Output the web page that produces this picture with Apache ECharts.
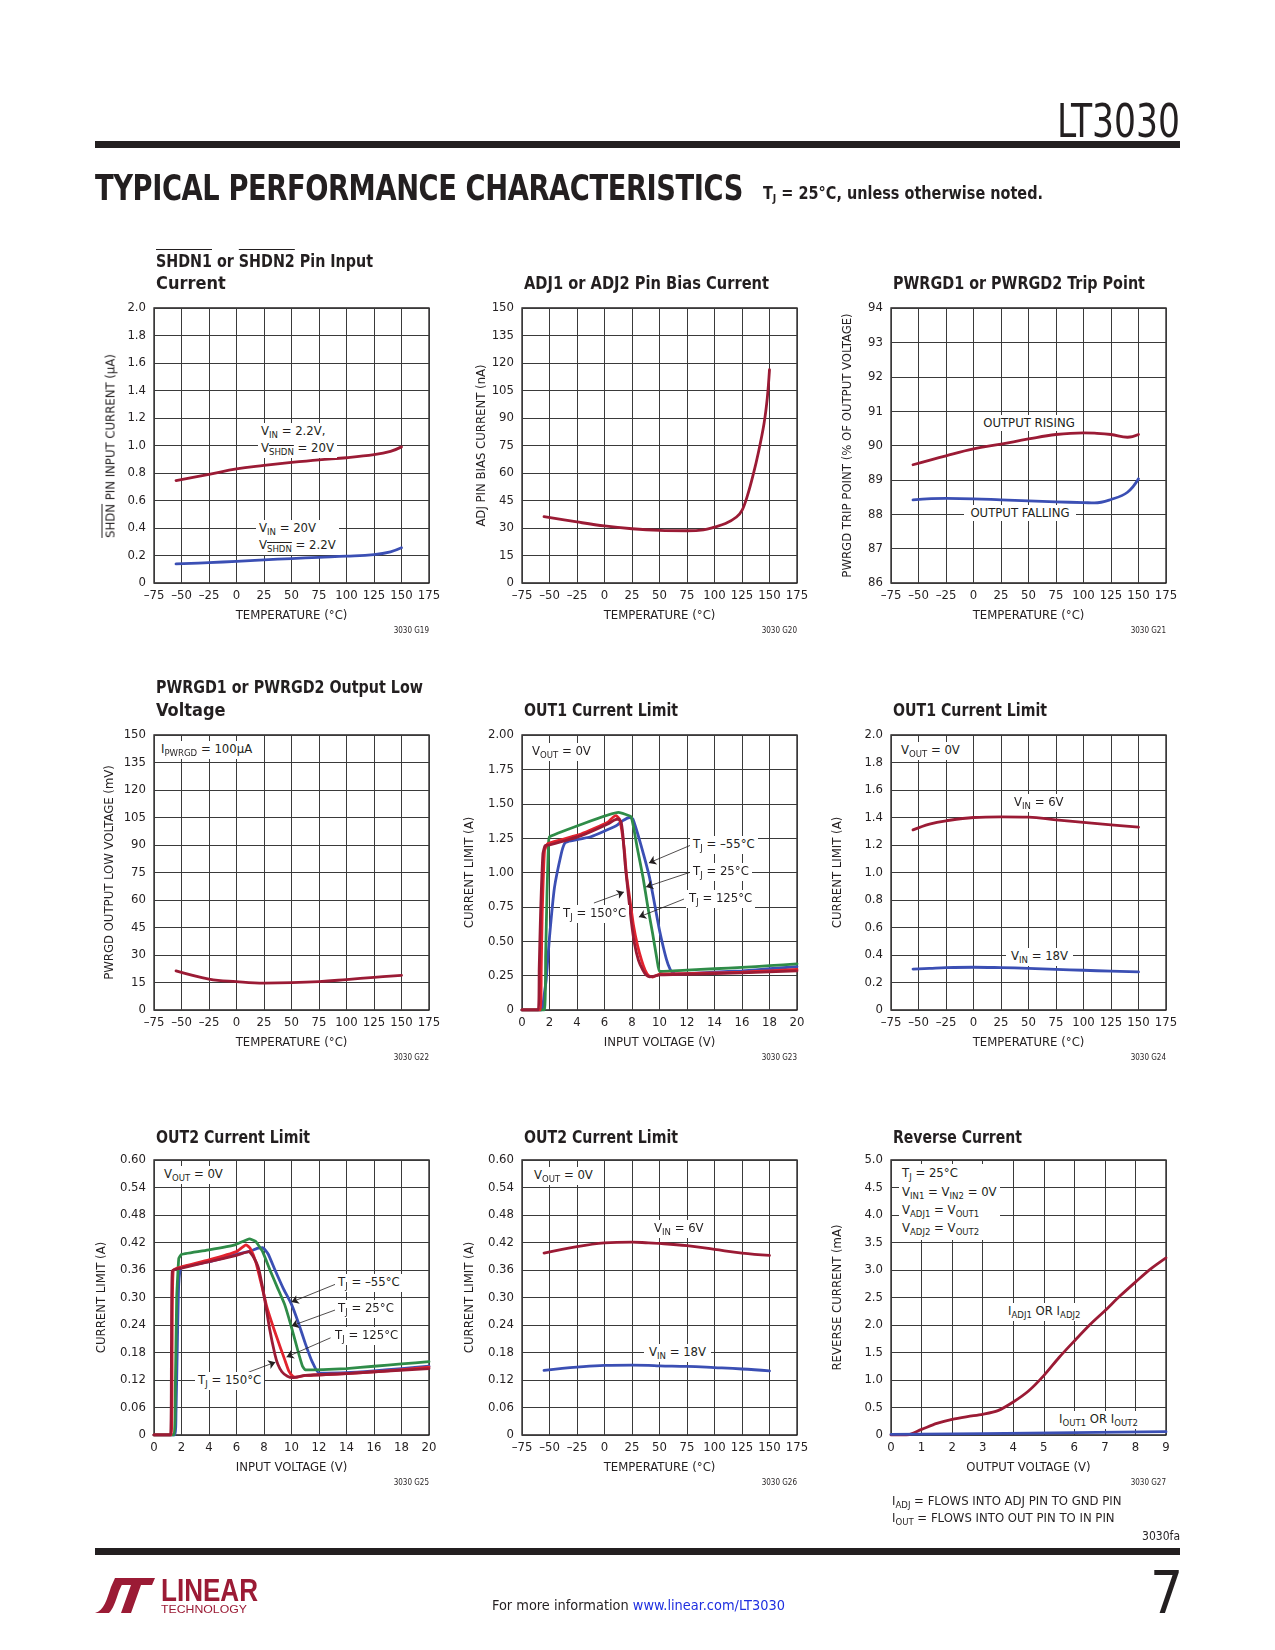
<!DOCTYPE html>
<html><head><meta charset="utf-8">
<script src="https://cdn.jsdelivr.net/npm/echarts/dist/echarts.min.js"></script>
<style>
body{margin:0;background:#fff}
#page{position:relative;width:1275px;height:1650px;overflow:hidden;background:#fff;color:#231f20;
 font-family:"Liberation Sans Narrow","DejaVu Sans Condensed","Arial Narrow",sans-serif}
#chart{position:absolute;left:0;top:0;width:1275px;height:1650px}
.o{position:absolute;white-space:nowrap;line-height:1}
.lab{font-size:13px;line-height:16.5px;background:#fff;padding:0 3px}
.ttl{font-size:18px;font-weight:bold}
.s{font-size:9.5px;position:relative;top:3px}
.ov{text-decoration:overline}
.bar{position:absolute;background:#231f20}
.code{font-size:8px}
</style></head>
<body><div id="page"><div id="chart"></div></div>
<script>
// ---------------- DATA ----------------
const tempTicks = ['–75','–50','–25','0','25','50','75','100','125','150','175'];
const vinTicks = ['0','2','4','6','8','10','12','14','16','18','20'];
const voutTicks = ['0','1','2','3','4','5','6','7','8','9'];
const y1Ticks = ['0','0.2','0.4','0.6','0.8','1.0','1.2','1.4','1.6','1.8','2.0'];
const y2Ticks = ['0','15','30','45','60','75','90','105','120','135','150'];
const y3Ticks = ['86','87','88','89','90','91','92','93','94'];
const y5Ticks = ['0','0.25','0.50','0.75','1.00','1.25','1.50','1.75','2.00'];
const y7Ticks = ['0','0.06','0.12','0.18','0.24','0.30','0.36','0.42','0.48','0.54','0.60'];
const y9Ticks = ['0','0.5','1.0','1.5','2.0','2.5','3.0','3.5','4.0','4.5','5.0'];

// Chart 1: SHDN pin input current (uA)
const shdnTemp = [-55,-25,0,25,50,75,100,125,140,150];
const shdnVin22 = [0.745,0.79,0.83,0.855,0.877,0.896,0.911,0.933,0.957,0.99];
const shdnVin20 = [0.139,0.148,0.158,0.168,0.178,0.187,0.195,0.207,0.227,0.256];
// Chart 2: ADJ pin bias current (nA)
const adjTemp = [-55,-25,0,25,50,75,90,100,110,120,125,130,135,140,145,148,150];
const adjBias = [36.2,33.3,31.1,29.6,28.7,28.5,29,30.5,32.4,36,39.6,47.8,58.7,71.5,86.9,101,116.4];
// Chart 3: PWRGD trip point (%)
const tripTemp = [-55,-25,0,25,50,75,100,110,125,140,150];
const tripRising = [89.44,89.70,89.90,90.04,90.19,90.32,90.37,90.36,90.32,90.24,90.32];
const tripFalling = [88.42,88.46,88.45,88.42,88.39,88.36,88.34,88.33,88.43,88.64,89.03];
// Chart 4: PWRGD output low voltage (mV)
const lowTemp = [-55,-25,0,25,50,75,100,125,150];
const lowMv = [21.3,16.9,15.5,14.7,14.9,15.5,16.6,17.8,18.9];
// Chart 5: OUT1 current limit vs input voltage
const o1m55V = [0,1.4,1.5,1.6,1.76,2.0,2.36,2.85,3.09,3.33,5.0,6.85,7.33,7.82,8.06,8.42,8.9,9.27,9.64,10.0,10.5,10.8,11.0,11.3,12,14,16,18,20];
const o1m55A = [0,0,0.02,0.1,0.22,0.53,0.89,1.135,1.21,1.225,1.26,1.34,1.377,1.40,1.39,1.28,1.11,0.966,0.773,0.58,0.37,0.29,0.27,0.262,0.265,0.275,0.285,0.30,0.315];
const o1p25V = [0,1.62,1.72,1.82,1.92,2.0,7.02,7.94,8.38,8.8,9.15,9.5,9.83,10.0,12,14,16,18,20];
const o1p25A = [0,0,0.4,0.85,1.2,1.26,1.437,1.405,1.18,0.966,0.75,0.556,0.36,0.28,0.29,0.30,0.31,0.322,0.335];
const o1p125V = [0,1.33,1.40,1.47,1.64,1.88,4.3,6.24,6.6,6.85,7.09,7.26,7.45,7.6,7.85,8.1,8.4,8.7,8.95,9.2,9.5,10,12,14,16,18,20];
const o1p125A = [0,0,0.3,0.70,1.16,1.21,1.28,1.365,1.40,1.413,1.389,1.304,1.16,0.98,0.80,0.62,0.47,0.36,0.29,0.25,0.24,0.26,0.265,0.27,0.275,0.285,0.295];
const o1p150V = [0,1.18,1.25,1.35,1.52,1.68,2.0,4.3,6.24,6.73,7.02,7.21,7.33,7.5,7.7,7.94,8.18,8.47,8.79,9.03,9.27,9.64,10,12,16,20];
const o1p150A = [0,0,0.3,0.70,1.135,1.196,1.20,1.268,1.353,1.382,1.389,1.365,1.28,1.063,0.87,0.652,0.483,0.362,0.29,0.254,0.242,0.246,0.255,0.26,0.27,0.285];
// Chart 6: OUT1 current limit vs temperature
const o1Temp = [-55,-40,-25,0,25,50,75,100,125,150];
const o1Vin6 = [1.31,1.352,1.376,1.40,1.405,1.403,1.383,1.364,1.347,1.33];
const o1Vin18 = [0.298,0.303,0.308,0.311,0.308,0.303,0.296,0.289,0.282,0.277];
// Chart 7: OUT2 current limit vs input voltage
const o2m55V = [0,1.5,1.6,1.7,1.8,2.0,4,6,7,7.5,7.9,8.3,8.8,9.4,10.0,10.5,11.0,11.5,12.0,14,16,18,20];
const o2m55A = [0,0,0.05,0.2,0.33,0.365,0.378,0.394,0.401,0.407,0.409,0.395,0.36,0.32,0.285,0.245,0.2,0.16,0.135,0.136,0.14,0.145,0.15];
const o2p25V = [0,1.45,1.55,1.65,1.8,2.0,4,5.9,6.94,7.4,7.9,8.5,9.0,9.5,10.0,10.5,10.8,11.0,14,16,18,20];
const o2p25A = [0,0,0.1,0.3,0.385,0.394,0.404,0.415,0.428,0.422,0.40,0.355,0.32,0.285,0.235,0.18,0.15,0.142,0.145,0.15,0.155,0.16];
const o2p125V = [0,1.25,1.32,1.4,2,4,6,6.7,7.0,7.4,7.8,8.2,8.7,9.2,9.5,9.8,10.1,10.4,11,14,17,20];
const o2p125A = [0,0,0.2,0.36,0.367,0.382,0.40,0.415,0.407,0.378,0.33,0.28,0.233,0.19,0.165,0.14,0.128,0.126,0.13,0.134,0.14,0.148];
const o2p150V = [0,1.2,1.27,1.33,2,4,6,6.9,7.2,7.6,8.0,8.4,8.8,9.0,9.3,9.7,10.1,11,14,20];
const o2p150A = [0,0,0.2,0.358,0.364,0.378,0.392,0.40,0.39,0.364,0.305,0.233,0.175,0.155,0.138,0.128,0.125,0.13,0.134,0.145];
// Chart 8: OUT2 current limit vs temperature
const o2Temp = [-55,-25,0,25,40,50,75,100,125,150];
const o2Vin6 = [0.397,0.411,0.419,0.421,0.419,0.418,0.413,0.405,0.397,0.392];
const o2Vin18 = [0.141,0.148,0.152,0.1525,0.152,0.151,0.1497,0.147,0.144,0.140];
// Chart 9: reverse current (mA)
const revV = [0,0.5,1.0,1.5,2.0,2.5,3.0,3.5,4.0,4.5,5.0,5.5,6.0,6.5,7.0,7.5,8.0,8.5,9.0];
const revAdj = [0,0,0.103,0.21,0.285,0.335,0.376,0.443,0.6,0.8,1.08,1.41,1.71,2.0,2.26,2.53,2.78,3.02,3.22];
const revOutV = [0,3,6,9];
const revOut = [0.012,0.025,0.045,0.06];

// ---------------- STYLE ----------------
const FONT = '"Liberation Sans Narrow","DejaVu Sans Condensed","Arial Narrow",sans-serif';
const INK = '#231f20';
const C_RED = '#9b1b35', C_BLUE = '#3b4fb4', C_GREEN = '#2f8c48', C_BRED = '#e2232e';
const gridPos = [[154,308],[522,308],[891,308],[154,735],[522,735],[891,735],[154,1160],[522,1160],[891,1160]];
const TEMP = {min:-75,max:175,int:25,labels:tempTicks,name:'TEMPERATURE (°C)'};
const VIN = {min:0,max:20,int:2,labels:vinTicks,name:'INPUT VOLTAGE (V)'};
const panels = [
 {x:TEMP, y:{min:0,max:2,int:0.2,labels:y1Ticks,name:'',gap:37}},
 {x:TEMP, y:{min:0,max:150,int:15,labels:y2Ticks,name:'ADJ PIN BIAS CURRENT (nA)',gap:33.5}},
 {x:TEMP, y:{min:86,max:94,int:1,labels:y3Ticks,name:'PWRGD TRIP POINT (% OF OUTPUT VOLTAGE)',gap:36.5}},
 {x:TEMP, y:{min:0,max:150,int:15,labels:y2Ticks,name:'PWRGD OUTPUT LOW VOLTAGE (mV)',gap:37.5}},
 {x:VIN, y:{min:0,max:2,int:0.25,labels:y5Ticks,name:'CURRENT LIMIT (A)',gap:45.5}},
 {x:TEMP, y:{min:0,max:2,int:0.2,labels:y1Ticks,name:'CURRENT LIMIT (A)',gap:46.5}},
 {x:VIN, y:{min:0,max:0.6,int:0.06,labels:y7Ticks,name:'CURRENT LIMIT (A)',gap:45.5}},
 {x:TEMP, y:{min:0,max:0.6,int:0.06,labels:y7Ticks,name:'CURRENT LIMIT (A)',gap:45.5}},
 {x:{min:0,max:9,int:1,labels:voutTicks,name:'OUTPUT VOLTAGE (V)'}, y:{min:0,max:5,int:0.5,labels:y9Ticks,name:'REVERSE CURRENT (mA)',gap:46.5}}
];
function lbl(ax, v){ const k = Math.round((v-ax.min)/ax.int); return ax.labels[k] !== undefined ? ax.labels[k] : ''; }
function xy(xs, ys){ return xs.map((x,i)=>[x, ys[i]]); }
function arrows(list){
  return {silent:true, symbol:['none','arrow'], symbolSize:7, animation:false,
    lineStyle:{color:INK, width:0.8, type:'solid'}, label:{show:false}, emphasis:{disabled:true},
    data:list.map(a=>[{coord:a[0]},{coord:a[1]}])};
}
function ln(p, xs, ys, color, o){
  o = o || {};
  const s = {type:'line', xAxisIndex:p, yAxisIndex:p, data:xy(xs,ys), showSymbol:false, symbol:'none',
    smooth:(o.smooth!==undefined?o.smooth:0.4), silent:true, z:o.z||2,
    lineStyle:{color:color, width:o.w||2.8, join:'round', cap:'round'}, itemStyle:{color:color}, emphasis:{disabled:true}};
  if (o.ml) s.markLine = o.ml;
  return s;
}
const arrows5 = [[[12.30,1.20],[9.23,1.07]],[[12.30,1.004],[9.02,0.895]],[[11.78,0.807],[8.50,0.676]],[[5.23,0.778],[7.41,0.858]]];
const arrows7 = [[[13.2,0.329],[10.0,0.29]],[[13.2,0.273],[10.0,0.238]],[[12.84,0.212],[9.64,0.170]],[[6.87,0.137],[8.83,0.159]]];

const series = [
 ln(0, shdnTemp, shdnVin22, C_RED), ln(0, shdnTemp, shdnVin20, C_BLUE),
 ln(1, adjTemp, adjBias, C_RED, {smooth:0.35}),
 ln(2, tripTemp, tripRising, C_RED), ln(2, tripTemp, tripFalling, C_BLUE),
 ln(3, lowTemp, lowMv, C_RED),
 ln(4, o1m55V, o1m55A, C_BLUE, {smooth:0.15, ml:arrows(arrows5)}),
 ln(4, o1p25V, o1p25A, C_GREEN, {smooth:0.1}),
 ln(4, o1p125V, o1p125A, C_BRED, {smooth:0.15}),
 ln(4, o1p150V, o1p150A, C_RED, {smooth:0.15}),
 ln(5, o1Temp, o1Vin6, C_RED), ln(5, o1Temp, o1Vin18, C_BLUE),
 ln(6, o2m55V, o2m55A, C_BLUE, {smooth:0.15, ml:arrows(arrows7)}),
 ln(6, o2p25V, o2p25A, C_GREEN, {smooth:0.1}),
 ln(6, o2p125V, o2p125A, C_BRED, {smooth:0.15}),
 ln(6, o2p150V, o2p150A, C_RED, {smooth:0.15}),
 ln(7, o2Temp, o2Vin6, C_RED), ln(7, o2Temp, o2Vin18, C_BLUE),
 ln(8, revV, revAdj, C_RED, {smooth:0.3}), ln(8, revOutV, revOut, C_BLUE, {smooth:0, z:3})
];

const chart = echarts.init(document.getElementById('chart'), null, {renderer:'canvas'});
chart.setOption({
  animation:false,
  textStyle:{fontFamily:FONT},
  grid: gridPos.map(g=>({left:g[0], top:g[1], width:275, height:275, show:true, borderColor:INK, borderWidth:1.3, backgroundColor:'transparent'})),
  xAxis: panels.map((p,i)=>({type:'value', gridIndex:i, min:p.x.min, max:p.x.max, interval:p.x.int,
    name:p.x.name, nameLocation:'middle', nameGap:26,
    nameTextStyle:{fontSize:13, color:INK, fontFamily:FONT},
    axisLine:{show:false}, axisTick:{show:false},
    splitLine:{show:true, lineStyle:{color:'#3a3a3a', width:1}},
    axisLabel:{fontSize:13, color:INK, margin:6, fontFamily:FONT, showMinLabel:true, showMaxLabel:true, hideOverlap:false,
      formatter:(v)=>lbl(p.x, v)}})),
  yAxis: panels.map((p,i)=>({type:'value', gridIndex:i, min:p.y.min, max:p.y.max, interval:p.y.int,
    name:p.y.name, nameLocation:'middle', nameGap:p.y.gap, nameRotate:90,
    nameTextStyle:{fontSize:13, color:INK, fontFamily:FONT},
    axisLine:{show:false}, axisTick:{show:false},
    splitLine:{show:true, lineStyle:{color:'#3a3a3a', width:1}},
    axisLabel:{fontSize:13, color:INK, margin:8, fontFamily:FONT, showMinLabel:true, showMaxLabel:true, hideOverlap:false,
      formatter:(v)=>lbl(p.y, v)}})),
  series: series
});

// ---------------- HTML TEXT OVERLAYS ----------------
const page = document.getElementById('page');
function add(x, cy, html, cls, css, fitW, anchor){
  const d = document.createElement('div');
  d.className = 'o ' + (cls||'');
  d.innerHTML = html;
  if (css) d.style.cssText += css;
  page.appendChild(d);
  const r = d.getBoundingClientRect();
  let w = r.width, tf = '';
  if (fitW){ tf = 'scaleX(' + (fitW / w) + ')'; d.style.transformOrigin = 'left center'; w = fitW; }
  let left = x;
  if (anchor === 'c') left = x - w/2;
  if (anchor === 'r') left = x - w;
  d.style.left = left + 'px';
  d.style.top = (cy - r.height/2) + 'px';
  if (tf) d.style.transform = tf;
  return d;
}
function bar(x, y, w, h){ const b = document.createElement('div'); b.className='bar';
  b.style.left=x+'px'; b.style.top=y+'px'; b.style.width=w+'px'; b.style.height=h+'px'; page.appendChild(b); }
const sub = t => '<span class="s">' + t + '</span>';

// header / footer
add(1057, 120, 'LT3030', '', 'font-size:47px;', 123);
bar(95, 141, 1085, 6.5);
add(95, 188, 'TYPICAL PERFORMANCE CHARACTERISTICS', '', 'font-size:36px;font-weight:bold;letter-spacing:-0.5px;', 648);
add(763, 193, 'T' + '<span style="font-size:11px;position:relative;top:3px">J</span>' + ' = 25°C, unless otherwise noted.', '', 'font-size:17px;font-weight:bold;', 280);
bar(95, 1548, 1085, 6.5);
add(1180, 1536, '3030fa', '', 'font-size:12px;', 0, 'r');
add(492, 1605, 'For more information <span style="color:#1f2fe0">www.linear.com/LT3030</span>', '', 'font-size:14.5px;', 293);
add(1150, 1593, '7', '', 'font-size:58px;font-weight:normal;');

// logo
const logo = document.createElement('div');
logo.className = 'o';
logo.style.left = '95px'; logo.style.top = '1575px';
logo.innerHTML = '<svg width="170" height="40" viewBox="0 0 170 40" xmlns="http://www.w3.org/2000/svg">' +
 '<path d="M0,38 C9,36 12,24 16,12 L20,3 L30,3 L24,16 C20,28 18,34 14,38 Z" fill="#9b1b35"/>' +
 '<path d="M22,3 L60,3 L57,10 L46,10 L36,38 L26,38 L36,10 L19,10 Z" fill="#9b1b35"/>' +
 '<text x="66" y="26" font-family=\'"Liberation Sans Narrow",sans-serif\' font-size="31" font-weight="bold" fill="#9b1b35" textLength="97" lengthAdjust="spacingAndGlyphs">LINEAR</text>' +
 '<text x="66" y="38" font-family=\'"Liberation Sans Narrow",sans-serif\' font-size="11" fill="#9b1b35" textLength="86" lengthAdjust="spacingAndGlyphs">TECHNOLOGY</text>' +
 '</svg>';
page.appendChild(logo);

// chart titles
add(156, 261, '<span class="ov">SHDN1</span> or <span class="ov">SHDN2</span> Pin Input', 'ttl', '', 217);
add(156, 283, 'Current', 'ttl');
add(524, 283, 'ADJ1 or ADJ2 Pin Bias Current', 'ttl', '', 245);
add(893, 283, 'PWRGD1 or PWRGD2 Trip Point', 'ttl', '', 252);
add(156, 687, 'PWRGD1 or PWRGD2 Output Low', 'ttl', '', 267);
add(156, 710, 'Voltage', 'ttl');
add(524, 710, 'OUT1 Current Limit', 'ttl', '', 154);
add(893, 710, 'OUT1 Current Limit', 'ttl', '', 154);
add(156, 1137, 'OUT2 Current Limit', 'ttl', '', 154);
add(524, 1137, 'OUT2 Current Limit', 'ttl', '', 154);
add(893, 1137, 'Reverse Current', 'ttl', '', 129);

// figure codes
[['3030 G19',429,631],['3030 G20',797,631],['3030 G21',1166,631],
 ['3030 G22',429,1058],['3030 G23',797,1058],['3030 G24',1166,1058],
 ['3030 G25',429,1483],['3030 G26',797,1483],['3030 G27',1166,1483]].forEach(c=>add(c[1], c[2], c[0], 'code', '', 0, 'r'));

// chart 1 y-axis name (with overline)
const yn = document.createElement('div');
yn.className = 'o';
yn.style.cssText = 'left:110px;top:445.5px;font-size:13px;transform:translate(-50%,-50%) rotate(-90deg);';
yn.innerHTML = '<span class="ov">SHDN</span> PIN INPUT CURRENT (µA)';
page.appendChild(yn);

// annotations
add(258, 440, 'V' + sub('IN') + ' = 2.2V,<br>V' + sub('<span class="ov">SHDN</span>') + ' = 20V', 'lab');
add(256, 537, 'V' + sub('IN') + ' = 20V<br>V' + sub('<span class="ov">SHDN</span>') + ' = 2.2V', 'lab');
add(1029, 423, 'OUTPUT RISING', 'lab', 'padding:0 4px;', 0, 'c');
add(1020, 513, 'OUTPUT FALLING', 'lab', 'padding:0 6px;', 0, 'c');
add(158, 750, 'I' + sub('PWRGD') + ' = 100µA', 'lab');
add(529, 752, 'V' + sub('OUT') + ' = 0V', 'lab');
add(690, 845, 'T' + sub('J') + ' = –55°C', 'lab');
add(690, 872, 'T' + sub('J') + ' = 25°C', 'lab');
add(686, 899, 'T' + sub('J') + ' = 125°C', 'lab');
add(560, 914, 'T' + sub('J') + ' = 150°C', 'lab');
add(898, 751, 'V' + sub('OUT') + ' = 0V', 'lab');
add(1011, 803, 'V' + sub('IN') + ' = 6V', 'lab');
add(1006, 957, 'V' + sub('IN') + ' = 18V', 'lab', 'padding:0 5px;');
add(161, 1175, 'V' + sub('OUT') + ' = 0V', 'lab');
add(335, 1283, 'T' + sub('J') + ' = –55°C', 'lab');
add(335, 1309, 'T' + sub('J') + ' = 25°C', 'lab');
add(332, 1336, 'T' + sub('J') + ' = 125°C', 'lab');
add(195, 1381, 'T' + sub('J') + ' = 150°C', 'lab');
add(531, 1176, 'V' + sub('OUT') + ' = 0V', 'lab');
add(651, 1229, 'V' + sub('IN') + ' = 6V', 'lab');
add(644, 1353, 'V' + sub('IN') + ' = 18V', 'lab', 'padding:0 5px;');
add(899, 1202, 'T' + sub('J') + ' = 25°C<br>V' + sub('IN1') + ' = V' + sub('IN2') + ' = 0V<br>V' + sub('ADJ1') + ' = V' + sub('OUT1') + '<br>V' + sub('ADJ2') + ' = V' + sub('OUT2'), 'lab', 'line-height:17.3px;padding:0 3px 2px 3px;');
add(1005, 1312, 'I' + sub('ADJ1') + ' OR I' + sub('ADJ2'), 'lab');
add(1056, 1420, 'I' + sub('OUT1') + ' OR I' + sub('OUT2'), 'lab');
add(892, 1500, 'I' + sub('ADJ') + ' = FLOWS INTO ADJ PIN TO GND PIN', '', 'font-size:13px;');
add(892, 1517, 'I' + sub('OUT') + ' = FLOWS INTO OUT PIN TO IN PIN', '', 'font-size:13px;');
</script>
</body></html>
